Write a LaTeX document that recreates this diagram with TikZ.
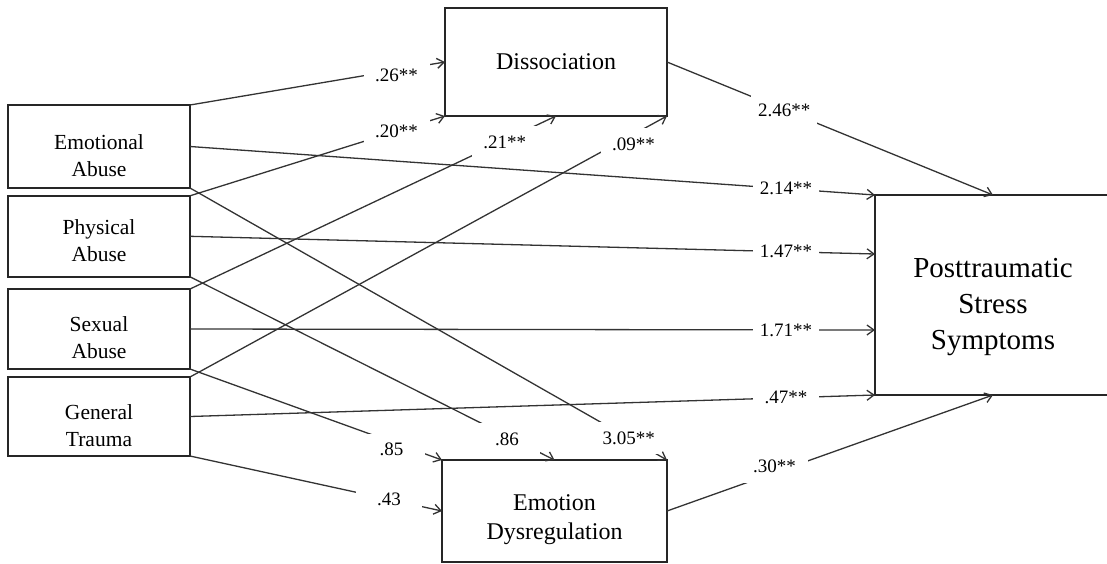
\documentclass[tikz,border=0pt]{standalone}
\usepackage{fontspec}
\setmainfont{Liberation Serif}
\usetikzlibrary{arrows.meta}
\newcommand\lowtext[2][-14pt]{\raisebox{#1}[0pt][0pt]{\begin{tabular}{@{}c@{}}#2\end{tabular}}}
\begin{document}
\begin{tikzpicture}[x=1pt,y=-1pt,
  box/.style={draw=black!85, line width=1.8pt, inner sep=0pt, outer sep=0pt, align=center},
  src/.style={box, minimum width=182pt, font=\fontsize{21.5}{27}\selectfont},
  conn/.style={draw=black!80, line width=1.3pt, -{Straight Barb[length=7pt,width=10pt]}},
  coef/.style={fill=white, inner sep=0pt, minimum width=66pt, minimum height=32pt, font=\fontsize{19}{22}\selectfont}]
\useasboundingbox (0,0) rectangle (1107,563);

% boxes
\node[src, minimum height=83pt] (EA) at (99,146.5) {\lowtext[-16pt]{Emotional\\Abuse}};
\node[src, minimum height=81pt] (PA) at (99,236.3) {\lowtext[-11pt]{Physical\\Abuse}};
\node[src, minimum height=80pt] (SA) at (99,329) {\lowtext[-16pt]{Sexual\\Abuse}};
\node[src, minimum height=79pt] (GT) at (99,416.5) {\lowtext[-16pt]{General\\Trauma}};
\node[box, minimum width=222pt, minimum height=108pt, font=\fontsize{24}{29}\selectfont] (DI) at (556,62) {Dissociation};
\node[box, minimum width=225pt, minimum height=102pt, font=\fontsize{24}{29}\selectfont] (ED) at (554.5,511) {\lowtext[-14pt]{Emotion\\Dysregulation}};
\node[box, minimum width=236pt, minimum height=200pt, font=\fontsize{29}{36}\selectfont] (PT) at (993,295) {\lowtext[-18pt]{Posttraumatic\\Stress\\Symptoms}};

% paths to Dissociation
\draw[conn] (EA.north east) -- node[coef, pos=0.81, yshift=-5pt] {.26**} (DI.west);
\draw[conn] (PA.north east) -- node[coef, pos=0.81] {.20**} (DI.south west);
\draw[conn] (SA.north east) -- node[coef, pos=0.86, yshift=-2pt] {.21**} (DI.south);
\draw[conn] (GT.north east) -- node[coef, pos=0.93, yshift=-10pt] {.09**} (DI.south east);

% direct paths to PTSS
\draw[conn] (EA.east) -- node[coef, pos=0.87] {2.14**} (PT.north west);
\draw[conn] (PA.east) -- node[coef, pos=0.87] {1.47**} ([yshift=41pt]PT.west);
\draw[conn] (SA.east) -- node[coef, pos=0.87] {1.71**} ([yshift=-35pt]PT.west);
\draw[conn] (GT.east) -- node[coef, pos=0.87] {.47**} (PT.south west);

% mediators to PTSS
\draw[conn] (DI.east) -- node[coef, pos=0.36] {2.46**} (PT.north);
\draw[conn] (ED.east) -- node[coef, pos=0.33, yshift=6pt] {.30**} (PT.south);

% paths to Emotion Dysregulation
\draw[conn] (EA.south east) -- node[coef, pos=0.92] {3.05**} (ED.north east);
\draw[conn] (PA.south east) -- node[coef, pos=0.87, yshift=-3pt] {.86} (ED.north);
\draw[conn] (SA.south east) -- node[coef, pos=0.80, yshift=-8pt] {.85} (ED.north west);
\draw[conn] (GT.south east) -- node[coef, pos=0.79] {.43} (ED.west);
\end{tikzpicture}
\end{document}
